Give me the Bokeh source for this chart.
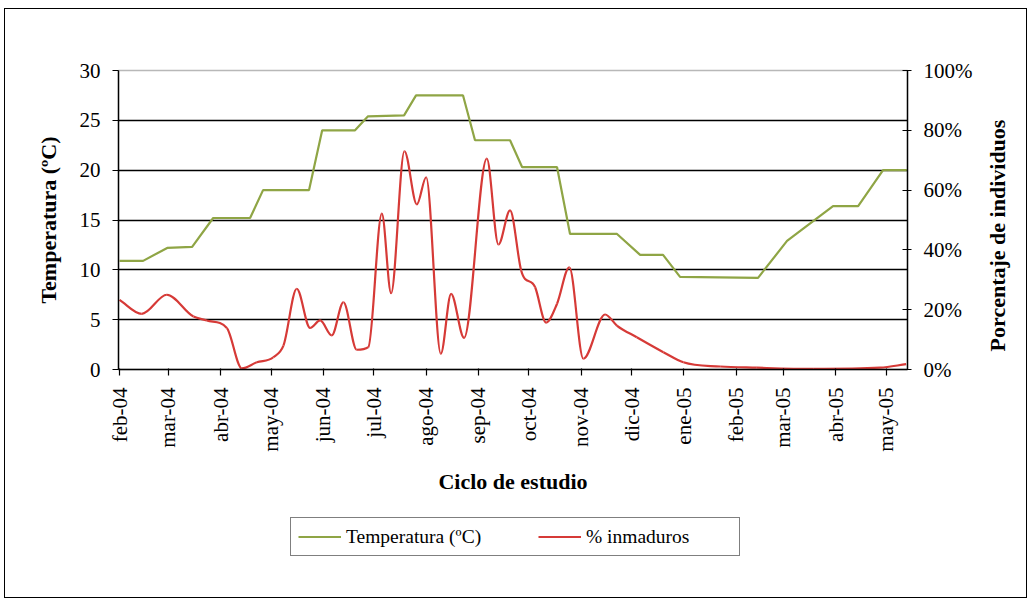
import numpy as np
import pandas as pd
from bokeh.plotting import figure
from bokeh.layouts import column, row
from bokeh.models import (Range1d, LinearAxis, FixedTicker, Legend, LegendItem,
                          PrintfTickFormatter, Label)
from bokeh.embed import file_html
from bokeh.resources import INLINE

# ---------------- data ----------------
month_labels = ["feb-04", "mar-04", "abr-04", "may-04", "jun-04", "jul-04", "ago-04",
                "sep-04", "oct-04", "nov-04", "dic-04", "ene-05", "feb-05", "mar-05",
                "abr-05", "may-05"]
month_starts = ["2004-02-01", "2004-03-01", "2004-04-01", "2004-05-01", "2004-06-01",
                "2004-07-01", "2004-08-01", "2004-09-01", "2004-10-01", "2004-11-01",
                "2004-12-01", "2005-01-01", "2005-02-01", "2005-03-01", "2005-04-01",
                "2005-05-01"]

# days since 2004-02-01
temp_day = [0, 14.0, 28.3, 43.1, 55.6, 77.5, 85.2, 112.5, 120.3, 139.8, 147.5, 168.9,
            176.0, 203.9, 211.0, 231.8, 239.0, 259.7, 267.4, 295.3, 309.0, 322.6, 332.7,
            379.0, 396.2, 423.5, 438.4, 453.2, 467.3]
temp_val = [10.9, 10.9, 12.2, 12.3, 15.2, 15.2, 18.0, 18.0, 24.0, 24.0, 25.4, 25.5,
            27.5, 27.5, 23.0, 23.0, 20.3, 20.3, 13.6, 13.6, 11.5, 11.5, 9.3,
            9.2, 12.9, 16.4, 16.4, 20.0, 20.0]

pct_day = [0, 13.2, 28.1, 43.9, 51.8, 63.7, 72.6, 81.5, 91.3, 97.3, 105.2, 113.1, 119.1,
           126.0, 132.9, 140.8, 147.7, 155.7, 161.2, 169.1, 176.5, 182.0, 190.7, 196.8,
           204.5, 218.0, 224.9, 231.8, 238.4, 246.7, 253.2, 259.7, 267.0, 275.3, 288.2,
           295.2, 307.0, 322.8, 334.7, 356.5, 378.3, 411.7, 451.4, 466.9]
pct_val = [23.3, 18.6, 25.0, 17.7, 16.4, 13.9, 0.4, 2.4, 4.1, 8.0, 27.0, 13.9, 16.4,
           11.4, 22.5, 6.6, 7.5, 52.1, 25.5, 73.0, 55.2, 64.3, 5.3, 25.3,
           10.6, 70.5, 41.8, 53.2, 33.1, 27.5, 15.7, 22.0, 34.2, 3.6, 18.4,
           14.7, 10.8, 5.8, 2.4, 1.0, 0.6, 0.2, 0.6, 1.8]

temp_ticks = [0, 5, 10, 15, 20, 25, 30]
pct_ticks = [0, 20, 40, 60, 80, 100]

GREEN = "#8fa545"
RED = "#d63a37"
FONT = "Liberation Serif"

origin = pd.Timestamp(month_starts[0])
tick_days = [(pd.Timestamp(s) - origin).days for s in month_starts]

# ---------------- smooth (monotone cubic bezier) segments for % series ----------------
x = np.array(pct_day, dtype=float)
y = np.array(pct_val, dtype=float)
h = np.diff(x)
s = np.diff(y) / h
n = len(x)
m = np.zeros(n)
m[0] = s[0]
m[-1] = s[-1]
for i in range(1, n - 1):
    if s[i - 1] * s[i] <= 0:
        m[i] = 0.0
    else:
        mi = (s[i - 1] * h[i] + s[i] * h[i - 1]) / (h[i - 1] + h[i])
        lim = 3 * min(abs(s[i - 1]), abs(s[i]))
        m[i] = np.sign(mi) * min(abs(mi), lim)
x0, y0 = x[:-1], y[:-1]
x1, y1 = x[1:], y[1:]
cx0 = x0 + h / 3
cy0 = y0 + m[:-1] * h / 3
cx1 = x1 - h / 3
cy1 = y1 - m[1:] * h / 3

# ---------------- layout geometry (page px) ----------------
OX, OY = 5, 9            # inner origin of the bordered box on the page
W = 1021                 # inner width of bordered box
SPLIT = 980              # page x where the right-title strip begins
W1 = SPLIT - OX          # main chart width
W3 = W - W1              # right-title strip width
H1 = 495                 # main chart height
H2 = 93                  # legend strip height
FRAME_L, FRAME_R, FRAME_T, FRAME_B = 118, 907, 70, 369

p = figure(width=W1, height=H1, output_backend="svg", toolbar_location=None,
           x_range=Range1d(-0.6, 467.7), y_range=Range1d(0, 30),
           min_border_left=FRAME_L - OX, min_border_right=W1 - (FRAME_R - OX),
           min_border_top=FRAME_T - OY, min_border_bottom=H1 - (FRAME_B - OY),
           background_fill_color="white", border_fill_color="white")
p.extra_y_ranges = {"pct": Range1d(0, 100)}
p.outline_line_color = "#b8b8b8"
p.outline_line_width = 1.5

p.xgrid.visible = False
p.ygrid.ticker = FixedTicker(ticks=temp_ticks[1:-1])
p.ygrid.grid_line_color = "black"
p.ygrid.grid_line_width = 1.3

ya = p.yaxis[0]
ya.ticker = FixedTicker(ticks=temp_ticks)
ya.axis_label = "Temperatura (ºC)"
xa = p.xaxis[0]
xa.ticker = FixedTicker(ticks=tick_days)
xa.major_label_overrides = {d: lab for d, lab in zip(tick_days, month_labels)}
xa.major_label_orientation = np.pi / 2
xa.axis_label = "Ciclo de estudio"

ra = LinearAxis(y_range_name="pct", ticker=FixedTicker(ticks=pct_ticks),
                formatter=PrintfTickFormatter(format="%d%%"))
p.add_layout(ra, "right")

for ax in (ya, xa, ra):
    ax.axis_line_color = "black"
    ax.axis_line_width = 1.4
    ax.major_tick_line_color = "black"
    ax.major_tick_line_width = 1.2
    ax.minor_tick_line_color = None
    ax.major_label_text_font = FONT
    ax.major_label_text_font_size = "21px"
    ax.major_label_text_color = "black"
    ax.axis_label_text_font = FONT
    ax.axis_label_text_font_size = "22px"
    ax.axis_label_text_font_style = "bold"
    ax.axis_label_text_color = "black"
    ax.major_label_standoff = 12

ya.major_tick_out = 6
ya.major_tick_in = 0
ya.axis_label_standoff = 16
xa.major_tick_out = 6
xa.major_tick_in = 1
xa.axis_label_standoff = 14
ra.major_tick_out = 4
ra.major_tick_in = 5

r_temp = p.line(temp_day, temp_val, line_color=GREEN, line_width=2.2)
r_pct = p.bezier(x0=x0, y0=y0, x1=x1, y1=y1, cx0=cx0, cy0=cy0, cx1=cx1, cy1=cy1,
                 y_range_name="pct", line_color=RED, line_width=2.2)

# ---------------- right-axis title strip (reads bottom-to-top) ----------------
p3 = figure(width=W3, height=H1, output_backend="svg", toolbar_location=None,
            x_range=Range1d(0, 1), y_range=Range1d(0, 1),
            x_axis_type=None, y_axis_type=None,
            min_border_left=0, min_border_right=0,
            min_border_top=FRAME_T - OY, min_border_bottom=H1 - (FRAME_B - OY),
            background_fill_color="white", border_fill_color="white")
p3.outline_line_color = None
p3.xgrid.visible = False
p3.ygrid.visible = False
p3.add_layout(Label(x=997 - SPLIT, y=FRAME_B - 235, x_units="screen", y_units="screen",
                    text="Porcentaje de individuos", angle=np.pi / 2,
                    text_align="center", text_baseline="middle",
                    text_font=FONT, text_font_size="22px", text_font_style="bold",
                    text_color="black"))

# ---------------- legend strip ----------------
# The strip's view ranges lie outside the data, so its two key renderers draw
# nothing in the strip; they only provide the legend swatches.
p2 = figure(width=W, height=H2, output_backend="svg", toolbar_location=None,
            x_range=Range1d(-2, -1), y_range=Range1d(-2, -1),
            x_axis_type=None, y_axis_type=None,
            min_border_left=FRAME_L - OX, min_border_right=0,
            min_border_top=0, min_border_bottom=0,
            background_fill_color="white", border_fill_color="white")
p2.outline_line_color = None
p2.xgrid.visible = False
p2.ygrid.visible = False
k_temp = p2.line(temp_day, temp_val, line_color=GREEN, line_width=2.2)
k_pct = p2.line(pct_day, pct_val, line_color=RED, line_width=2.2)

LEG_L, LEG_T, LEG_B = 290, 519, 556
legend = Legend(items=[LegendItem(label="Temperatura (ºC)", renderers=[k_temp]),
                       LegendItem(label="% inmaduros", renderers=[k_pct])],
                orientation="horizontal",
                location=(LEG_L - FRAME_L, H2 - (LEG_B - OY - H1)),
                padding=7, spacing=46, glyph_width=43, glyph_height=23,
                label_height=23, label_width=146, label_standoff=5,
                label_text_font=FONT, label_text_font_size="19.5px",
                label_text_color="black", border_line_color="black",
                border_line_width=1.2, background_fill_color="white",
                background_fill_alpha=1.0, margin=0)
p2.add_layout(legend, "center")

layout = column(row(p, p3, spacing=0), p2, spacing=0, margin=(OY - 1, 0, 0, OX - 1),
                styles={"border": "1px solid black"})

open("out.html", "w").write(file_html(layout, INLINE))
